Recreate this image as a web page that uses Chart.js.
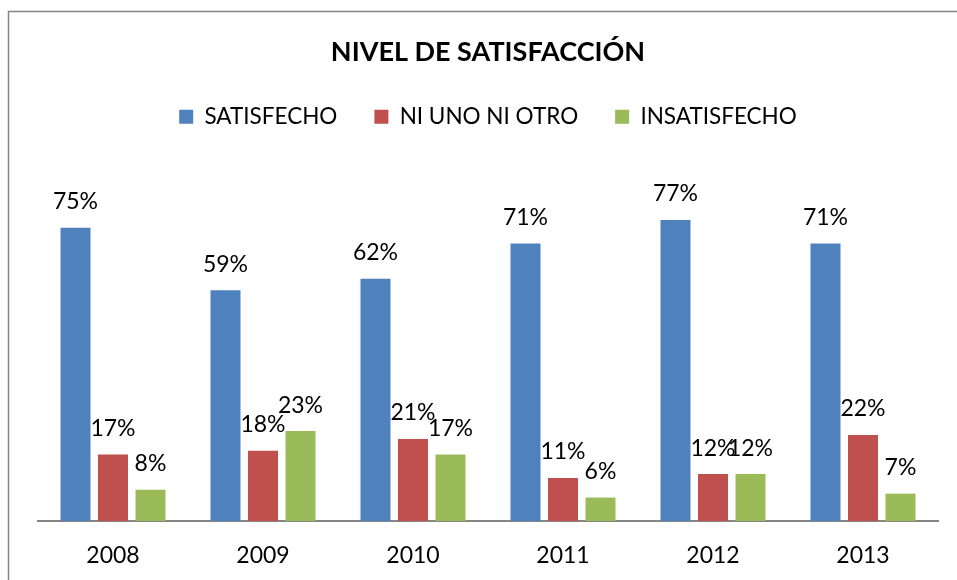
<!DOCTYPE html>
<html>
<head>
<meta charset="utf-8">
<title>Nivel de satisfacción</title>
<script src="https://cdn.jsdelivr.net/npm/chart.js@4.4.1/dist/chart.umd.min.js"></script>
<style>
    html, body { margin: 0; padding: 0; background: #fff; }
    #wrap { width: 957px; height: 580px; position: relative; }
</style>
</head>
<body>
<div id="wrap"><canvas id="chart"></canvas></div>
<script>
// data
const years = ['2008', '2009', '2010', '2011', '2012', '2013'];
const satisfecho = [75, 59, 62, 71, 77, 71];
const niUnoNiOtro = [17, 18, 21, 11, 12, 22];
const insatisfecho = [8, 23, 17, 6, 12, 7];

Chart.defaults.font.family = "'Lato', sans-serif";
Chart.defaults.color = '#000';

const colors = {
    blue: '#4f81bd',
    red: '#c0504d',
    green: '#9bbb59',
    axis: '#868686'
};

// outer frame of the chart object (only left/top edges are visible)
const framePlugin = {
    id: 'frame',
    beforeDraw(chart) {
        const ctx = chart.ctx;
        ctx.save();
        ctx.strokeStyle = colors.axis;
        ctx.lineWidth = 1.5;
        ctx.strokeRect(8.5, 11.5, 1200, 1200);
        ctx.restore();
    }
};

// percent labels above every bar
const valueLabels = {
    id: 'valueLabels',
    afterDatasetsDraw(chart) {
        const ctx = chart.ctx;
        ctx.save();
        ctx.font = "23px 'Lato', sans-serif";
        ctx.fillStyle = '#000';
        ctx.textAlign = 'center';
        ctx.textBaseline = 'middle';
        chart.data.datasets.forEach((ds, i) => {
            chart.getDatasetMeta(i).data.forEach((bar, j) => {
                ctx.fillText(ds.data[j] + '%', bar.x, bar.y - 26);
            });
        });
        ctx.restore();
    }
};

new Chart(document.getElementById('chart'), {
    type: 'bar',
    data: {
        labels: years,
        datasets: [
            { label: 'SATISFECHO', data: satisfecho, backgroundColor: colors.blue },
            { label: 'NI UNO NI OTRO', data: niUnoNiOtro, backgroundColor: colors.red },
            { label: 'INSATISFECHO', data: insatisfecho, backgroundColor: colors.green }
        ]
    },
    options: {
        responsive: true,
        maintainAspectRatio: false,
        animation: false,
        categoryPercentage: 0.75,
        barPercentage: 0.8,
        layout: { padding: { top: 12, left: 38, right: 19, bottom: -10.6 } },
        plugins: {
            title: {
                display: true,
                text: 'NIVEL DE SATISFACCIÓN',
                color: '#000',
                font: { size: 27, weight: 'bold' },
                padding: { top: 24, bottom: 0 }
            },
            legend: {
                display: true,
                labels: {
                    boxWidth: 14,
                    boxHeight: 14,
                    padding: 37,
                    color: '#000',
                    font: { size: 22.5 }
                }
            },
            tooltip: { enabled: false }
        },
        scales: {
            x: {
                grid: { display: false, drawTicks: false },
                border: { display: true, color: colors.axis, width: 2 },
                ticks: { padding: 21, font: { size: 23 }, color: '#000' }
            },
            y: {
                display: false,
                min: 0,
                max: 98
            }
        }
    },
    plugins: [framePlugin, valueLabels]
});
</script>
</body>
</html>
